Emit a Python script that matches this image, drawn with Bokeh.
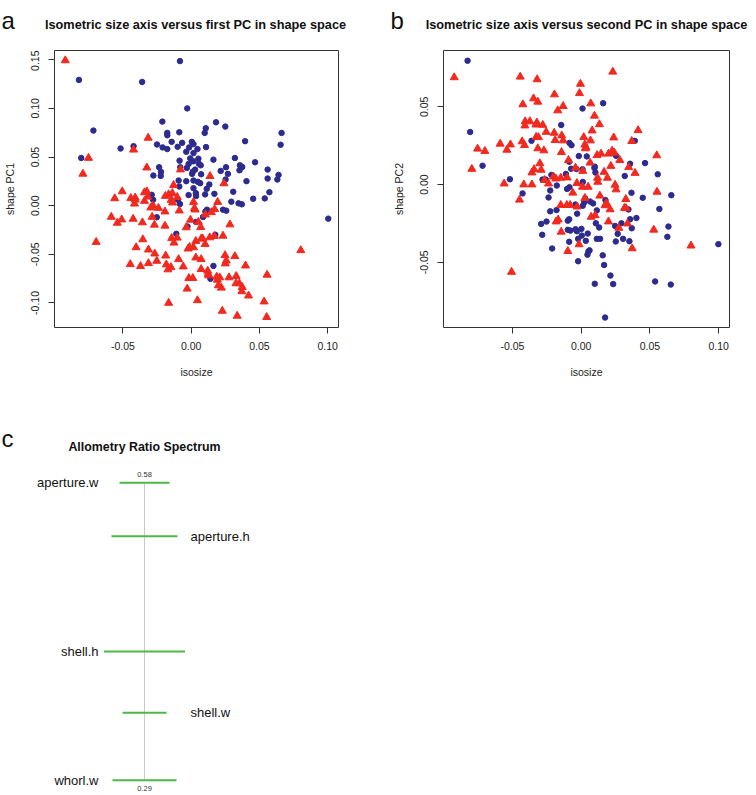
from bokeh.plotting import figure
from bokeh.layouts import column, row
from bokeh.models import Range1d, FixedTicker, Label, NumeralTickFormatter
from bokeh.embed import file_html
from bokeh.resources import INLINE
from bokeh.core.properties import value

FONT = "Liberation Sans"
BLUE = "#2E2B8F"
RED = "#F2291F"
GREEN = "#4DB847"

# ---------------- data ----------------
# Panel a: isosize vs shape PC1
a_blue = [
    (-0.0082, 0.1486), (-0.0822, 0.1293), (-0.0359, 0.1272), (-0.0029, 0.1000), (-0.0211, 0.0864),
    (0.0182, 0.0857), (0.0250, 0.0813), (0.0107, 0.0796), (0.0099, 0.0748), (-0.0716, 0.0772),
    (0.0662, 0.0748), (0.0655, 0.0626), (-0.0175, 0.0748), (-0.0175, 0.0724), (-0.0087, 0.0755),
    (0.0395, 0.0663), (-0.0143, 0.0656), (-0.0066, 0.0646), (0.0005, 0.0656), (0.0017, 0.0633),
    (-0.0250, 0.0629), (-0.0209, 0.0599), (-0.0175, 0.0582), (-0.0099, 0.0605), (-0.0015, 0.0599),
    (0.0046, 0.0582), (0.0109, 0.0602), (-0.0422, 0.0612), (-0.0517, 0.0588), (-0.0036, 0.0554),
    (0.0017, 0.0541), (-0.0805, 0.0490), (-0.0007, 0.0486), (0.0053, 0.0483), (-0.0085, 0.0463),
    (0.0015, 0.0456), (0.0163, 0.0473), (0.0320, 0.0490), (0.0468, 0.0446), (-0.0019, 0.0429),
    (0.0056, 0.0432), (0.0070, 0.0415), (-0.0032, 0.0388), (-0.0080, 0.0395), (0.0029, 0.0371),
    (0.0012, 0.0350), (0.0007, 0.0327), (0.0073, 0.0323), (-0.0235, 0.0395), (-0.0221, 0.0347),
    (-0.0223, 0.0306), (-0.0277, 0.0310), (0.0255, 0.0395), (0.0357, 0.0415), (0.0374, 0.0398),
    (0.0354, 0.0364), (0.0269, 0.0327), (0.0216, 0.0357), (0.0560, 0.0371), (0.0640, 0.0316),
    (0.0560, 0.0279), (0.0631, 0.0269), (0.0405, 0.0252), (0.0252, 0.0269), (-0.0092, 0.0259),
    (-0.0036, 0.0252), (0.0017, 0.0259), (0.0049, 0.0245), (0.0066, 0.0231), (0.0133, 0.0218),
    (-0.0087, 0.0197), (0.0017, 0.0180), (0.0114, 0.0173),
    (-0.0289, 0.0112), (-0.0279, 0.0061), (-0.0082, 0.0017), (-0.0097, 0.0061), (-0.0019, 0.0109),
    (0.0034, 0.0129), (0.0036, 0.0099), (0.0102, 0.0116), (0.0170, 0.0122), (0.0308, 0.0143),
    (0.0573, 0.0139), (0.0539, 0.0075), (0.0454, 0.0071), (0.0294, 0.0041), (0.0347, 0.0024),
    (0.0371, 0.0014), (0.0233, -0.0041), (0.0257, -0.0051), (0.0116, -0.0041), (0.0104, -0.0061),
    (0.0087, -0.0116), (0.0036, -0.0167), (-0.0252, -0.0119), (-0.0027, -0.0214), (-0.0109, -0.0289),
    (0.0177, -0.0299), (0.0163, -0.0619), (0.0141, -0.0752), (0.1004, -0.0133),
]
a_red = [
    (-0.0922, 0.1493), (-0.0315, 0.0697), (-0.0422, 0.0575), (-0.0752, 0.0490), (-0.0325, 0.0391),
    (-0.0793, 0.0327), (-0.0078, 0.0371), (0.0138, 0.0303), (0.0240, 0.0228), (-0.0129, 0.0211),
    (-0.0505, 0.0146), (-0.0342, 0.0136), (-0.0325, 0.0146), (-0.0560, 0.0075), (-0.0442, 0.0078),
    (-0.0410, 0.0082), (-0.0410, 0.0061), (-0.0415, 0.0020), (-0.0342, 0.0048), (-0.0318, 0.0092),
    (-0.0279, 0.0000), (-0.0296, -0.0020), (-0.0240, -0.0024), (-0.0192, -0.0061), (-0.0189, 0.0099),
    (-0.0165, 0.0116), (-0.0138, 0.0129), (-0.0146, 0.0058), (-0.0136, 0.0031), (-0.0102, 0.0088),
    (-0.0087, -0.0051), (0.0017, 0.0037), (0.0024, -0.0027), (0.0029, -0.0041), (0.0194, 0.0037),
    (0.0172, -0.0037), (0.0148, -0.0068), (0.0104, -0.0092), (-0.0585, -0.0116), (-0.0541, -0.0177),
    (-0.0509, -0.0143), (-0.0425, -0.0136), (-0.0357, -0.0173), (-0.0286, -0.0116), (-0.0269, -0.0197),
    (-0.0192, -0.0207), (-0.0005, -0.0146), (-0.0036, -0.0224), (0.0053, -0.0167), (0.0070, -0.0221),
    (0.0284, -0.0194), (-0.0696, -0.0374), (-0.0354, -0.0347), (-0.0403, -0.0429), (-0.0313, -0.0452),
    (-0.0267, -0.0493), (-0.0143, -0.0333), (-0.0102, -0.0330), (-0.0126, -0.0381), (-0.0187, -0.0514),
    (-0.0252, -0.0568), (-0.0313, -0.0592), (-0.0446, -0.0602), (-0.0371, -0.0622), (-0.0182, -0.0605),
    (-0.0148, -0.0633), (-0.0170, -0.0656), (-0.0092, -0.0551), (-0.0058, -0.0626), (-0.0165, -0.1000),
    (-0.0029, -0.0854), (-0.0017, -0.0745), (0.0012, -0.0745), (0.0034, -0.0534), (0.0073, -0.0551),
    (0.0073, -0.0653), (0.0034, -0.0364), (0.0075, -0.0337), (0.0085, -0.0340), (0.0102, -0.0395),
    (0.0136, -0.0327), (0.0170, -0.0313), (0.0233, -0.0310), (-0.0022, -0.0442), (-0.0012, -0.0425),
    (0.0017, -0.0429), (0.0121, -0.0670), (0.0124, -0.0701), (0.0129, -0.0718), (0.0187, -0.0731),
    (0.0192, -0.0762), (0.0209, -0.0738), (0.0199, -0.0820), (0.0221, -0.0844), (0.0277, -0.0738),
    (0.0248, -0.0510), (0.0257, -0.0565), (0.0250, -0.0595), (0.0320, -0.0520), (0.0398, -0.0616),
    (0.0330, -0.0724), (0.0328, -0.0799), (0.0352, -0.0799), (0.0374, -0.0837), (0.0371, -0.0881),
    (0.0420, -0.0925), (0.0556, -0.0711), (0.0534, -0.0986), (0.0553, -0.1146), (0.0337, -0.1133),
    (0.0228, -0.1082), (0.0046, -0.0973), (0.0803, -0.0459),
]

# Panel b: isosize vs shape PC2
b_blue = [
    (-0.0826, 0.0796), (-0.0807, 0.0338), (-0.0717, 0.0121), (-0.0518, 0.0034), (0.0160, 0.0523),
    (0.0010, 0.0489), (-0.0145, 0.0383), (-0.0361, 0.0281), (-0.0085, 0.0268), (-0.0070, 0.0253),
    (0.0390, 0.0281), (-0.0017, 0.0183), (0.0041, 0.0181), (0.0254, 0.0185), (-0.0087, 0.0147),
    (0.0099, 0.0115), (0.0097, 0.0106), (0.0356, 0.0134), (0.0465, 0.0138), (0.0557, 0.0066),
    (0.0317, 0.0055), (0.0010, 0.0098), (-0.0034, 0.0100), (-0.0073, 0.0102), (0.0104, 0.0077),
    (-0.0111, 0.0068), (-0.0216, 0.0062), (-0.0281, 0.0032), (-0.0257, 0.0032), (0.0012, 0.0017),
    (-0.0177, -0.0006), (-0.0085, -0.0017), (-0.0102, -0.0028),
    (-0.0426, -0.0057), (-0.0225, -0.0038), (-0.0237, -0.0083), (0.0366, -0.0053), (0.0448, -0.0085),
    (0.0656, -0.0068), (0.0177, -0.0100), (0.0065, -0.0109), (0.0087, -0.0121), (0.0022, -0.0115),
    (0.0012, -0.0136), (-0.0041, -0.0128), (0.0029, -0.0089), (0.0114, -0.0166), (0.0344, -0.0160),
    (0.0569, -0.0157), (-0.0225, -0.0172), (-0.0179, -0.0164), (-0.0029, -0.0187), (-0.0097, -0.0232),
    (-0.0087, -0.0223), (-0.0291, -0.0253), (-0.0252, -0.0238), (0.0107, -0.0249), (0.0131, -0.0276),
    (0.0293, -0.0249), (0.0356, -0.0223), (0.0402, -0.0215), (0.0247, -0.0266), (0.0368, -0.0281),
    (-0.0097, -0.0291), (-0.0078, -0.0296), (-0.0041, -0.0287), (-0.0031, -0.0300), (0.0002, -0.0285),
    (0.0048, -0.0315), (0.0005, -0.0328), (-0.0022, -0.0349), (0.0114, -0.0349), (0.0138, -0.0349),
    (0.0266, -0.0317), (-0.0283, -0.0323), (-0.0087, -0.0368), (0.0034, -0.0362), (0.0252, -0.0366),
    (0.0305, -0.0349), (0.0351, -0.0364), (0.0635, -0.0270), (0.0627, -0.0336), (-0.0211, -0.0411),
    (0.0061, -0.0423), (0.0053, -0.0430), (0.0046, -0.0451), (0.0157, -0.0455), (-0.0022, -0.0493),
    (0.0167, -0.0517), (0.0213, -0.0585), (0.0099, -0.0638), (0.0233, -0.0640), (0.0538, -0.0623),
    (0.0652, -0.0643), (0.0174, -0.0855), (0.0998, -0.0383),
]
b_red = [
    (-0.0923, 0.0689), (-0.0443, 0.0693), (-0.0320, 0.0676), (0.0230, 0.0725), (-0.0005, 0.0647),
    (-0.0012, 0.0587), (-0.0194, 0.0579), (-0.0346, 0.0553), (-0.0315, 0.0532), (-0.0424, 0.0515),
    (0.0070, 0.0521), (-0.0131, 0.0504), (-0.0170, 0.0476), (0.0097, 0.0442), (-0.0407, 0.0406),
    (-0.0373, 0.0406), (-0.0409, 0.0379), (-0.0322, 0.0398), (-0.0329, 0.0385), (-0.0279, 0.0383),
    (0.0133, 0.0387), (0.0080, 0.0347), (0.0414, 0.0349), (-0.0254, 0.0338), (-0.0196, 0.0332),
    (-0.0141, 0.0315), (-0.0327, 0.0306), (-0.0310, 0.0304), (-0.0429, 0.0277), (-0.0412, 0.0253),
    (-0.0189, 0.0285), (-0.0131, 0.0283), (0.0019, 0.0304), (0.0068, 0.0283), (0.0237, 0.0302),
    (0.0368, 0.0279), (0.0027, 0.0257), (0.0034, 0.0240), (0.0031, 0.0232), (-0.0589, 0.0262),
    (-0.0514, 0.0257), (-0.0540, 0.0223), (-0.0753, 0.0230), (-0.0700, 0.0215), (-0.0315, 0.0232),
    (-0.0271, 0.0219), (-0.0143, 0.0208), (0.0116, 0.0189), (0.0145, 0.0198), (0.0199, 0.0198),
    (0.0225, 0.0217), (0.0242, 0.0204), (0.0550, 0.0187), (0.0281, 0.0157), (-0.0092, 0.0157),
    (0.0065, 0.0140), (-0.0300, 0.0136), (-0.0795, 0.0100), (0.0216, 0.0119), (0.0346, 0.0111),
    (-0.0342, 0.0098), (-0.0291, 0.0094), (-0.0358, 0.0077), (-0.0041, 0.0108), (0.0012, 0.0087),
    (0.0167, 0.0081), (0.0392, 0.0074), (-0.0201, 0.0051), (-0.0184, 0.0038), (-0.0148, 0.0043),
    (-0.0102, 0.0045), (-0.0266, 0.0028), (0.0119, 0.0043), (0.0121, 0.0017), (0.0191, 0.0043),
    (-0.0560, 0.0006), (-0.0417, 0.0000), (-0.0358, 0.0000), (-0.0031, 0.0009), (0.0010, -0.0015),
    (0.0051, -0.0015), (0.0247, -0.0002), (-0.0237, 0.0006),
    (-0.0448, -0.0098), (-0.0061, -0.0053), (0.0136, -0.0072), (0.0254, -0.0032), (0.0552, -0.0047),
    (0.0027, -0.0087), (-0.0148, -0.0132), (-0.0104, -0.0132), (-0.0080, -0.0132), (-0.0029, -0.0142),
    (0.0325, -0.0094), (0.0184, -0.0119), (0.0174, -0.0134), (0.0211, -0.0160), (0.0315, -0.0151),
    (0.0327, -0.0153), (0.0073, -0.0208), (0.0102, -0.0198), (-0.0182, -0.0238), (-0.0167, -0.0226),
    (0.0199, -0.0238), (0.0337, -0.0251), (0.0274, -0.0279), (0.0528, -0.0291), (-0.0145, -0.0304),
    (-0.0015, -0.0385), (-0.0097, -0.0428), (0.0371, -0.0411), (0.0799, -0.0393), (-0.0506, -0.0562),
]

x_ticks = [-0.05, 0.0, 0.05, 0.10]
a_y_ticks = [-0.10, -0.05, 0.0, 0.05, 0.10, 0.15]
b_y_ticks = [-0.05, 0.0, 0.05]

# Panel c: allometry ratio spectrum
variables = ["aperture.w", "aperture.h", "shell.h", "shell.w", "whorl.w"]
ratios = [0.580, 0.528, 0.4155, 0.3557, 0.290]
ci_halfwidth = [25.0, 33.0, 40.5, 22.0, 32.0]
label_side = ["left", "right", "left", "right", "left"]


def blank_figure(w, h, xr, yr):
    p = figure(width=w, height=h, output_backend="svg", toolbar_location=None,
               x_range=Range1d(*xr), y_range=Range1d(*yr),
               x_axis_location=None, y_axis_location=None, title=None,
               min_border_left=0, min_border_right=0, min_border_top=0, min_border_bottom=0)
    p.xgrid.visible = False
    p.ygrid.visible = False
    p.outline_line_color = None
    return p


def header(w, letter, letter_x, title, title_x):
    h = blank_figure(w, 50, (0, w), (0, 50))
    h.add_layout(Label(x=letter_x, y=30, x_units="screen", y_units="screen", text=letter,
                       text_font=FONT, text_font_size="24px", text_align="left",
                       text_baseline="alphabetic", text_color="#111111"))
    h.add_layout(Label(x=title_x, y=26, x_units="screen", y_units="screen", text=title,
                       text_font=FONT, text_font_size="12.75px", text_font_style="bold",
                       text_align="center", text_baseline="middle", text_color="#111111"))
    return h


def style_axes(p, ylabel):
    p.xgrid.visible = False
    p.ygrid.visible = False
    p.outline_line_color = "#333333"
    p.outline_line_width = 1
    for ax in (p.xaxis[0], p.yaxis[0]):
        ax.axis_line_color = None
        ax.major_tick_line_color = "#333333"
        ax.major_tick_out = 6
        ax.major_tick_in = 0
        ax.minor_tick_line_color = None
        ax.major_label_text_font = FONT
        ax.major_label_text_font_size = "10.5px"
        ax.major_label_text_color = "#222222"
        ax.axis_label_text_font = FONT
        ax.axis_label_text_font_style = "normal"
        ax.axis_label_text_font_size = "10.5px"
        ax.axis_label_text_color = "#222222"
        ax.formatter = NumeralTickFormatter(format="0.00")
    p.xaxis[0].major_label_standoff = 8
    p.xaxis[0].axis_label = "isosize"
    p.xaxis[0].axis_label_standoff = 13
    p.yaxis[0].major_label_standoff = 9
    p.yaxis[0].axis_label = ylabel
    p.yaxis[0].axis_label_standoff = 13
    p.yaxis[0].major_label_orientation = "vertical"


def scatter_panel(w, ylabel, blue, red, yticks, yr, left):
    p = figure(width=w, height=330, output_backend="svg", toolbar_location=None,
               x_range=Range1d(-0.1001, 0.1079), y_range=Range1d(*yr),
               min_border_left=left, min_border_right=w - left - 286,
               min_border_top=0, min_border_bottom=51, title=None)
    style_axes(p, ylabel)
    p.xaxis[0].ticker = FixedTicker(ticks=x_ticks)
    p.yaxis[0].ticker = FixedTicker(ticks=yticks)
    bx, by = zip(*blue)
    rx, ry = zip(*red)
    p.scatter(list(bx), list(by), marker="circle", size=5.5, fill_color=BLUE, line_color=BLUE)
    p.scatter(list(rx), list(ry), marker="triangle", size=8, fill_color=RED, line_color=RED)
    return p


ha = header(378, "a", 1, "Isometric size axis versus first PC in shape space", 195)
hb = header(370, "b", 12, "Isometric size axis versus second PC in shape space", 208)
pa = scatter_panel(378, "shape PC1", a_blue, a_red, a_y_ticks, (-0.1252, 0.1595), 52)
pb = scatter_panel(370, "shape PC2", b_blue, b_red, b_y_ticks, (-0.0919, 0.0862), 65)

# ---------------- panel c ----------------
pc = blank_figure(378, 415, (-144, 234), (0.2751, 0.6798))

rmax, rmin = max(ratios), min(ratios)
pc.segment(x0=[0], x1=[0], y0=[rmin], y1=[rmax], line_color="#C8C8C8", line_width=1)
pc.segment(x0=[-h for h in ci_halfwidth], x1=ci_halfwidth, y0=ratios, y1=ratios,
           line_color=GREEN, line_width=2)

lv = [v for v, s in zip(variables, label_side) if s == "left"]
ly = [r for r, s in zip(ratios, label_side) if s == "left"]
rv = [v for v, s in zip(variables, label_side) if s == "right"]
ry_ = [r for r, s in zip(ratios, label_side) if s == "right"]
pc.text(x=[0] * len(lv), y=ly, text=lv, x_offset=-46, text_align="right", text_baseline="middle",
        text_font=value(FONT), text_font_size="13px", text_color="#111111")
pc.text(x=[0] * len(rv), y=ry_, text=rv, x_offset=46, text_align="left", text_baseline="middle",
        text_font=value(FONT), text_font_size="13px", text_color="#111111")
pc.text(x=[0], y=[rmax], text=[f"{rmax:.2f}"], y_offset=-8, text_align="center",
        text_baseline="middle", text_font=value(FONT), text_font_size="7.5px", text_color="#333333")
pc.text(x=[0], y=[rmin], text=[f"{rmin:.2f}"], y_offset=8, text_align="center",
        text_baseline="middle", text_font=value(FONT), text_font_size="7.5px", text_color="#333333")

pc.add_layout(Label(x=144, y=349, x_units="screen", y_units="screen", text="Allometry Ratio Spectrum",
                    text_font=FONT, text_font_size="12.4px", text_font_style="bold",
                    text_align="center", text_baseline="middle", text_color="#111111"))
pc.add_layout(Label(x=1, y=357, x_units="screen", y_units="screen", text="c",
                    text_font=FONT, text_font_size="24px", text_align="left",
                    text_baseline="alphabetic", text_color="#111111"))

layout = column(row(ha, hb), row(pa, pb), pc)
open("out.html", "w").write(file_html(layout, INLINE))
